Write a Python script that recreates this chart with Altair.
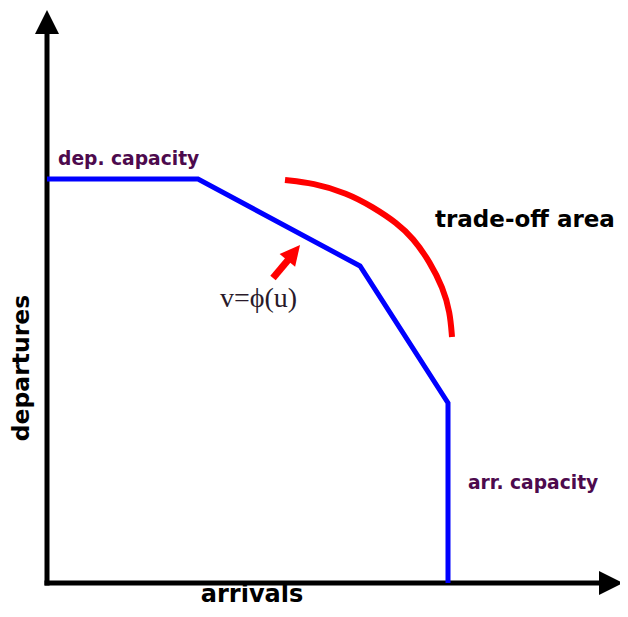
import altair as alt
import pandas as pd

# ---- data (u = arrivals, v = departures) ----
frontier_u = [0, 151, 313, 401, 401]
frontier_v = [404, 404, 317, 180, 0]

arc_u = [238, 266, 300, 326, 350, 366, 383, 396, 403, 405]
arc_v = [403, 400, 390, 376, 360, 345, 321, 295, 271, 246]

axis_names = ["x-axis", "x-axis", "y-axis", "y-axis", "pointer", "pointer"]
axis_u = [0, 555, 0, 0, 226, 247]
axis_v = [0, 0, 0, 548, 305, 330]

head_names = ["y-axis", "x-axis", "pointer"]
head_u = [0, 564, 246.7]
head_v = [561, 0, 330.3]
head_angle = [0, 90, 39.3]
head_size = [576, 576, 400]
head_color = ["black", "black", "#ff0000"]

label_text = ["dep. capacity", "trade-off area", "v=ϕ(u)", "arr. capacity", "arrivals", "departures"]
label_u = [11, 388, 211.5, 421, 205, -25]
label_v = [418, 356, 276, 94, -19, 215]

X_DOMAIN = [-39, 573]
Y_DOMAIN = [-26, 575]

xs = alt.Scale(domain=X_DOMAIN, nice=False, zero=False)
ys = alt.Scale(domain=Y_DOMAIN, nice=False, zero=False)
X = lambda f: alt.X(f, type="quantitative", scale=xs, axis=None)
Y = lambda f: alt.Y(f, type="quantitative", scale=ys, axis=None)

frontier = pd.DataFrame({"u": frontier_u, "v": frontier_v, "o": range(len(frontier_u))})
arc = pd.DataFrame({"u": arc_u, "v": arc_v, "o": range(len(arc_u))})
axes = pd.DataFrame({"name": axis_names, "u": axis_u, "v": axis_v, "o": range(len(axis_u))})
heads = pd.DataFrame({"name": head_names, "u": head_u, "v": head_v, "angle": head_angle,
                      "size": head_size, "color": head_color})
labels = pd.DataFrame({"t": label_text, "u": label_u, "v": label_v})

axis_lines = alt.Chart(axes[axes.name != "pointer"]).mark_line(
    color="black", strokeWidth=5, strokeCap="square"
).encode(x=X("u"), y=Y("v"), detail="name:N", order="o:Q")

pointer_line = alt.Chart(axes[axes.name == "pointer"]).mark_line(
    color="#ff0000", strokeWidth=7, strokeCap="butt"
).encode(x=X("u"), y=Y("v"), order="o:Q")

arrowheads = alt.Chart(heads).mark_point(
    shape="M0,-1L1,1L-1,1Z", filled=True, opacity=1, strokeWidth=0
).encode(
    x=X("u"), y=Y("v"),
    angle=alt.Angle("angle:Q", scale=None),
    size=alt.Size("size:Q", scale=None),
    color=alt.Color("color:N", scale=None),
)

frontier_line = alt.Chart(frontier).mark_line(
    color="#0000ff", strokeWidth=5, strokeJoin="miter"
).encode(x=X("u"), y=Y("v"), order="o:Q")

arc_line = alt.Chart(arc).mark_line(
    color="#ff0000", strokeWidth=6, interpolate="basis", strokeCap="butt"
).encode(x=X("u"), y=Y("v"), order="o:Q")


def label(i, **kw):
    return alt.Chart(labels.iloc[[i]]).mark_text(**kw).encode(x=X("u"), y=Y("v"), text="t:N")


purple = "#4d0a4d"
texts = [
    label(0, font="DejaVu Sans", fontWeight="bold", fontSize=18.7, color=purple, align="left", baseline="alphabetic"),
    label(1, font="DejaVu Sans", fontWeight="bold", fontSize=23, color="black", align="left", baseline="alphabetic"),
    label(2, font="Liberation Serif", fontSize=28, color="#2a1a2a", align="center", baseline="alphabetic"),
    label(3, font="DejaVu Sans", fontWeight="bold", fontSize=18.7, color=purple, align="left", baseline="alphabetic"),
    label(4, font="DejaVu Sans", fontWeight="bold", fontSize=24, color="black", align="center", baseline="alphabetic"),
    label(5, font="DejaVu Sans", fontWeight="bold", fontSize=23.5, color="black", align="center", baseline="middle", angle=270),
]

chart = alt.layer(
    axis_lines, frontier_line, arc_line, pointer_line, arrowheads, *texts
).properties(
    width=612, height=601, padding=0, autosize=alt.AutoSizeParams(type="none"),
    background="white",
).configure_view(stroke=None)

chart.save("out.html", embed_options={"renderer": "svg", "actions": False})
